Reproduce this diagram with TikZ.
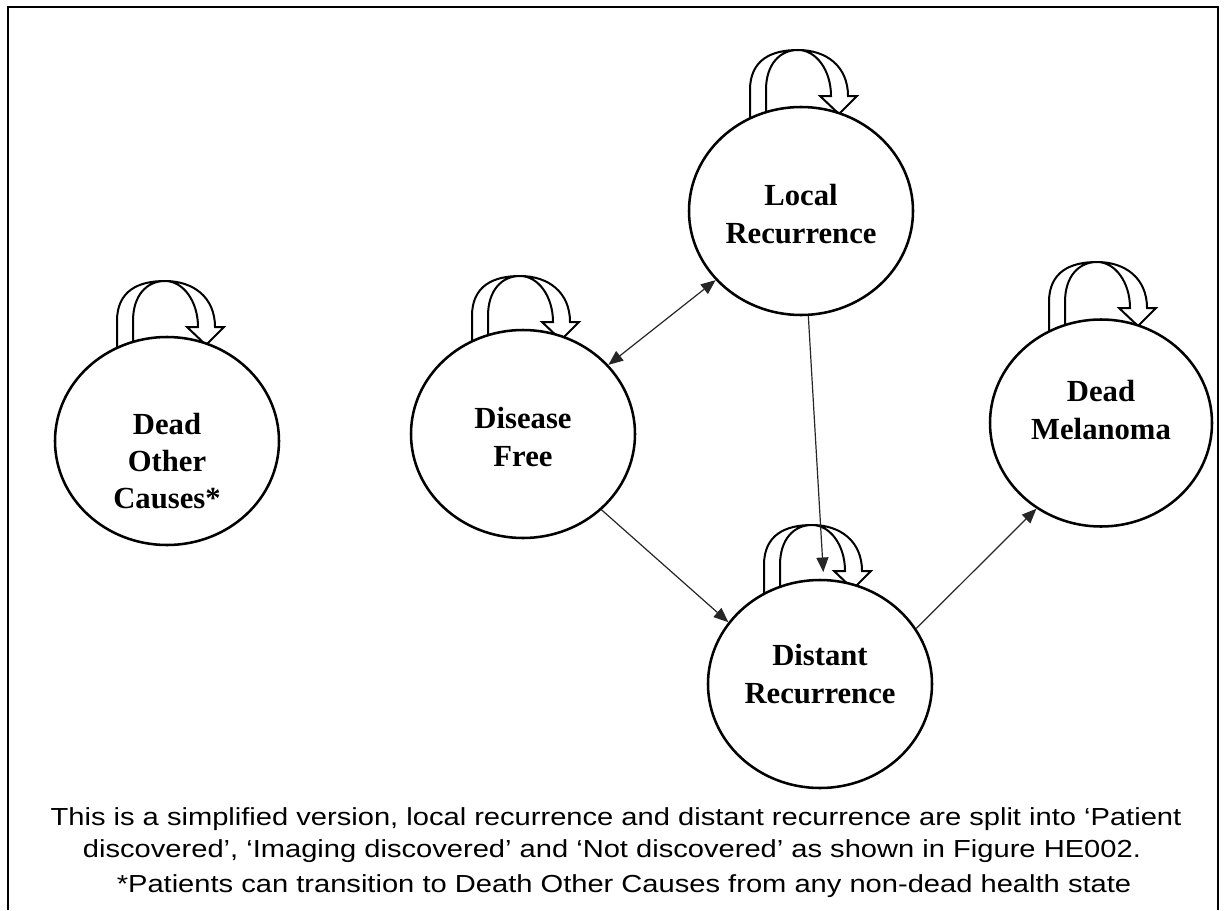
\documentclass[tikz,border=0pt]{standalone}
\usepackage{fontspec}
\setmainfont{Liberation Serif}
\newfontfamily\capfont{Liberation Sans}
\usetikzlibrary{calc,arrows.meta,shapes.geometric}
\pgfdeclarelayer{bg}
\pgfsetlayers{bg,main}
\tikzset{
  selfloop/.pic={
    \draw[line width=1.5pt, fill=white, line join=miter]
      (-48,85) -- (-48,40) .. controls (-48,10) and (-27,0) .. (0,0)
      .. controls (28,0) and (50,16) .. (50,46) -- (59,46) -- (41,64) -- (22,46) -- (33,46)
      .. controls (33,20) and (18,0) .. (0,0)
      .. controls (-18,0) and (-32,14) .. (-32,40) -- (-32,85) -- cycle;
  }
}
\newcommand{\capline}[1]{\scalebox{1.18}[1]{#1}}
\begin{document}
\begin{tikzpicture}[x=0.75pt,y=-0.75pt,
  state/.style={ellipse, draw, line width=1.9pt, fill=white, inner sep=0pt,
    minimum width={224*0.75pt}, minimum height={208*0.75pt}},
  statetext/.style={align=center, inner sep=0pt, font=\bfseries\fontsize{23}{28}\selectfont},
  conn/.style={line width=0.9pt, draw=black!85},
  arr/.style={-{Triangle[length=11pt,width=9pt]}},
  darr/.style={{Triangle[length=11pt,width=9pt]}-{Triangle[length=11pt,width=9pt]}},
  captext/.style={anchor=base, inner sep=0pt, font=\capfont\fontsize{18.5}{22}\selectfont}
]
\useasboundingbox (0,0) rectangle (1224,910);
\draw[line width=2pt] (8,910) -- (8,7) -- (1218,7) -- (1218,910);

\node[state] (DOC) at (167,441) {};
\node[state] (DF) at (523,434) {};
\node[state] (LR) at (801,211) {};
\node[state] (DR) at (820,684) {};
\node[state, minimum width={222*0.75pt}, minimum height={207*0.75pt}] (DM) at (1101,423) {};

\node[statetext] (DOCt) at ($(DOC.center)+(0,20)$) {Dead\\Other\\Causes*};
\node[statetext] (DFt) at ($(DF.center)+(0,3)$) {Disease\\Free};
\node[statetext] (LRt) at ($(LR.center)+(0,3)$) {Local\\Recurrence};
\node[statetext] (DRt) at ($(DR.center)+(0,-10)$) {Distant\\Recurrence};
\node[statetext] (DMt) at ($(DM.center)+(0,-13)$) {Dead\\Melanoma};

\begin{pgfonlayer}{bg}
\pic at ($(DOC.center)+(-2,-160)$) {selfloop};
\pic at ($(DF.center)+(-3,-158)$) {selfloop};
\pic at ($(LR.center)+(-3,-161)$) {selfloop};
\pic at ($(DR.center)+(-8,-159)$) {selfloop};
\pic at ($(DM.center)+(-4,-161)$) {selfloop};
\end{pgfonlayer}

\draw[conn, darr] (DF.39) -- (LR.219);
\draw[conn, arr, shorten >=5pt] (LR.-86) -- (DR.88);
\draw[conn, arr] (DF.-44) -- (DR.146);
\draw[conn, arr] (DR.30) -- (DM.233);

\node[captext] (cap1) at (616,825) {\capline{This is a simplified version, local recurrence and distant recurrence are split into ‘Patient}};
\node[captext] (cap2) at (612,857) {\capline{discovered’, ‘Imaging discovered’ and ‘Not discovered’ as shown in Figure HE002.}};
\node[captext] (cap3) at (624,892) {\capline{*Patients can transition to Death Other Causes from any non-dead health state}};
\end{tikzpicture}
\end{document}
